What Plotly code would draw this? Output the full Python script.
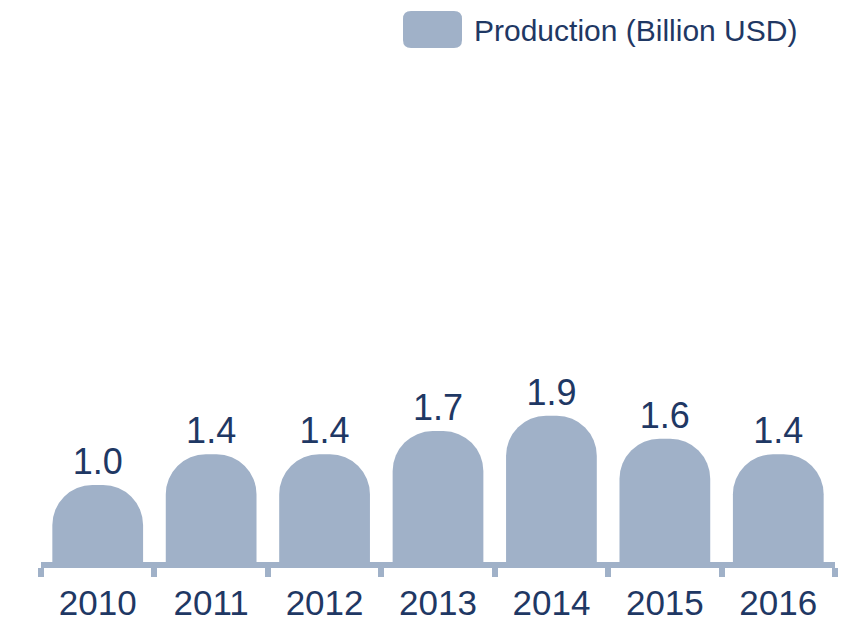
import plotly.graph_objects as go

years = ["2010", "2011", "2012", "2013", "2014", "2015", "2016"]
production = [1.0, 1.4, 1.4, 1.7, 1.9, 1.6, 1.4]
series_name = "Production (Billion USD)"

bar_color = "#a0b1c8"
text_color = "#1f3864"
font_family = "Liberation Sans, Arial, sans-serif"

W, H = 845, 622
ml, mr, mt, mb = 41, 10, 0, 60
plot_w = W - ml - mr
plot_h = H - mt - mb


def px_x(px):
    return (px - ml) / plot_w


def px_y(py):
    return (H - mb - py) / plot_h


def rounded_rect(left, top, right, bottom, r):
    # path in paper coords, built from pixel corners
    l, rt, t, b = px_x(left), px_x(right), px_y(top), px_y(bottom)
    rx, ry = r / plot_w, r / plot_h
    return (
        f"M {l + rx} {t} L {rt - rx} {t} Q {rt} {t} {rt} {t - ry} "
        f"L {rt} {b + ry} Q {rt} {b} {rt - rx} {b} "
        f"L {l + rx} {b} Q {l} {b} {l} {b + ry} "
        f"L {l} {t - ry} Q {l} {t} {l + rx} {t} Z"
    )


fig = go.Figure()
fig.add_trace(go.Bar(
    x=years,
    y=production,
    marker=dict(color=bar_color, line=dict(width=0)),
    text=[f"{v:.1f}" for v in production],
    textposition="outside",
    constraintext="none",
    cliponaxis=False,
    textfont=dict(size=36, color=text_color, family=font_family),
    name=series_name,
    showlegend=False,
))

# legend swatch (rounded rectangle) + label
fig.add_shape(
    type="path", xref="paper", yref="paper",
    path=rounded_rect(403, 11, 462, 48, 8),
    fillcolor=bar_color, line=dict(width=0),
)
fig.add_annotation(
    xref="paper", yref="paper", x=px_x(472), y=px_y(30),
    xanchor="left", yanchor="middle", showarrow=False,
    text=series_name,
    font=dict(size=30, color=text_color, family=font_family),
)

fig.update_layout(
    width=W, height=H,
    margin=dict(l=ml, r=mr, t=mt, b=mb),
    plot_bgcolor="white",
    paper_bgcolor="white",
    bargap=0.2,
    barcornerradius=40,
    font=dict(family=font_family, color=text_color),
    xaxis=dict(
        showline=True,
        linecolor=bar_color,
        linewidth=6,
        ticks="outside",
        tickson="boundaries",
        ticklen=9,
        tickwidth=6,
        tickcolor=bar_color,
        ticklabelstandoff=5,
        tickfont=dict(size=35, color=text_color, family=font_family),
        showgrid=False,
    ),
    yaxis=dict(
        range=[0, plot_h / 77],
        visible=False,
        showgrid=False,
    ),
)

fig.write_html(
    "out.html",
    config={"displayModeBar": False},
    post_script="document.body.style.margin='0';",
)
